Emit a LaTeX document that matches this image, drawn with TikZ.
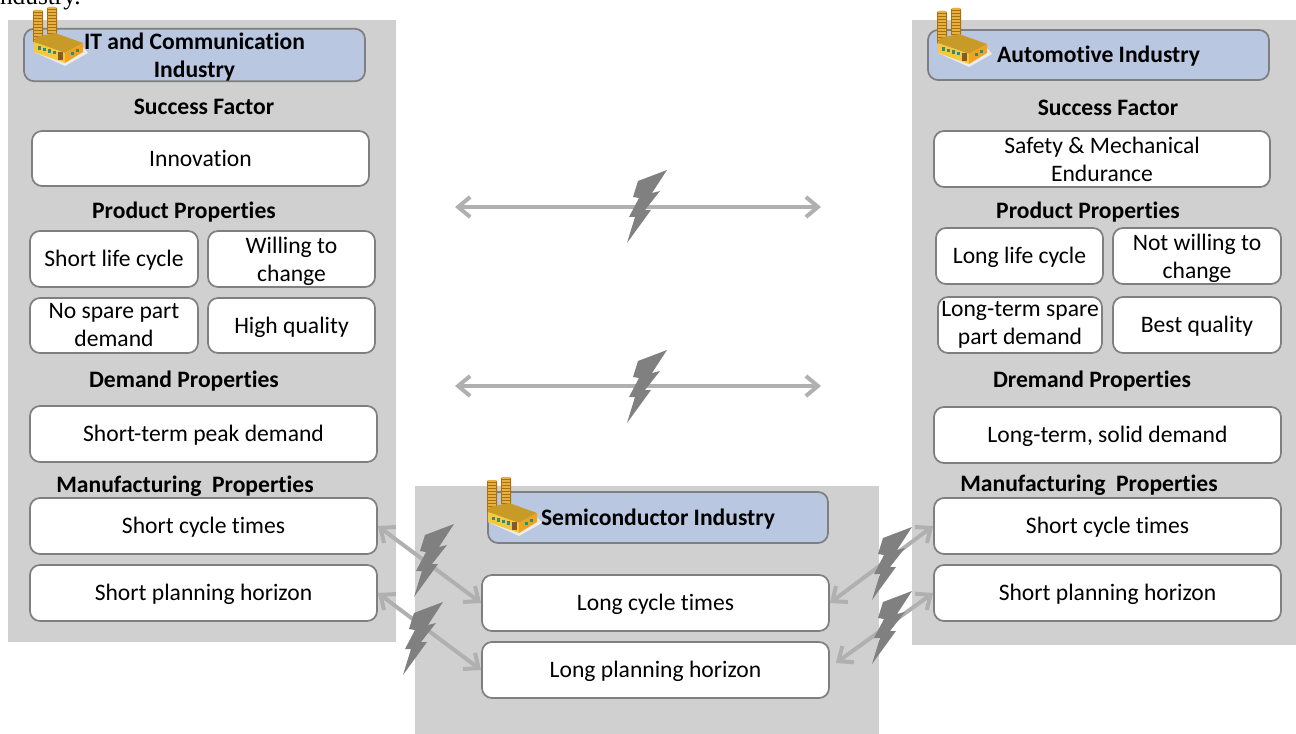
\documentclass[tikz,border=0pt]{standalone}
\usepackage{fontspec}
\setmainfont[Ligatures=NoCommon]{Carlito}
\newfontfamily\bodyserif{Liberation Serif}
\usetikzlibrary{arrows.meta}
\definecolor{PanelGray}{HTML}{D0D0D0}
\definecolor{TitleBlue}{HTML}{B9C7E0}
\definecolor{EdgeGray}{HTML}{7F7F7F}
\definecolor{ArrowGray}{HTML}{B0B0B0}
\definecolor{BoltGray}{HTML}{808080}
\definecolor{StackDark}{HTML}{A8700F}
\definecolor{StackLight}{HTML}{E8B040}
\definecolor{RoofGold}{HTML}{C89A28}
\definecolor{WallGold}{HTML}{F8C83C}
\definecolor{EndGold}{HTML}{EFA31E}
\definecolor{WindowTeal}{HTML}{2E8C7C}
\newcommand{\toppad}{\rule{0pt}{15.5pt}}
\tikzset{
    Panel/.style 2 args = {fill=PanelGray, inner sep=0, minimum width=#1*0.75pt, minimum height=#2*0.75pt},
    Title/.style 2 args = {draw=EdgeGray, line width=1.3pt, fill=TitleBlue, rounded corners=7.5pt, inner sep=0,
        align=center, font=\fontsize{17.7}{21}\selectfont\bfseries, minimum width=#1*0.75pt, minimum height=#2*0.75pt},
    Prop/.style 2 args = {draw=EdgeGray, line width=1.3pt, fill=white, rounded corners=7.5pt, inner sep=0,
        align=center, font=\fontsize{17.7}{21}\selectfont, minimum width=#1*0.75pt, minimum height=#2*0.75pt},
    OneLine/.style = {text depth=0.8pt},
    Heading/.style = {inner sep=0, text depth=1.5pt, font=\fontsize{17.7}{21}\selectfont\bfseries},
    Arrow/.style = {draw=ArrowGray, line width=3pt, {Straight Barb[length=9pt,width=15pt]}-{Straight Barb[length=9pt,width=15pt]}},
    Bolt/.pic = {
        \fill [BoltGray] (20,-37) -- (-9,-26) -- (-14,-10) -- (-8,-9) -- (-18,10) -- (-12,10) -- (-20,36)
            -- (4,3) -- (-2,3) -- (13,-16) -- (5,-14) -- cycle;
    },
    Factory/.pic = {
        \fill [black!8] (1,45) -- (32,59) -- (55,46) -- (50,40) -- cycle;
        \foreach \cx/\ctop/\cbot in {5/3/36, 19/0/28} {
            \fill [StackDark, rounded corners=1.5pt] (\cx-5,\ctop) rectangle (\cx+5,\cbot);
            \foreach \band in {\ctop,...,\cbot} {
                \pgfmathparse{int(mod(\band,3))}
                \ifnum\pgfmathresult=0
                    \fill [StackLight] (\cx-4.5,\band+0.3) rectangle (\cx+4,\band+1.8);
                \fi
            }
        }
        \fill [RoofGold] (3,30) -- (22,26) -- (50,36) -- (32,46) -- (1,35) -- cycle;
        \fill [WallGold] (1,35) -- (32,46) -- (32,56) -- (1,45) -- cycle;
        \fill [EndGold] (32,46) -- (50,36) -- (50,45) -- (32,56) -- cycle;
        \foreach \wx in {5,10,15,20} {
            \fill [WindowTeal] (\wx,38+\wx*0.3) rectangle (\wx+2.5,41.5+\wx*0.3);
        }
        \fill [brown!70!black] (25,45) rectangle (30,53);
        \fill [WindowTeal] (38,45) rectangle (40.5,48);
        \fill [WindowTeal] (43,42) rectangle (45.5,45);
    }
}
\begin{document}
\begin{tikzpicture}[x=0.75pt, y=-0.75pt]
    \useasboundingbox (0,0) rectangle (1296,734);
    \node [inner sep=0, anchor=base east, font=\bodyserif\fontsize{19}{21}\selectfont](caption) at (81,5){ndustry.};

    % panels
    \node [Panel={388}{622}](itpanel) at (202,331){};
    \node [Panel={384}{625}](autopanel) at (1104,332.5){};
    \node [Panel={464}{248}](semipanel) at (647,610){};

    % IT and communication
    \node [Title={341}{50}](ittitle) at (194.5,55){\toppad IT and Communication\\Industry};
    \node [Heading](itsuccess) at (204,108){Success Factor};
    \node [Prop={337}{55},OneLine](itinno) at (200.5,158.5){Innovation};
    \node [Heading](itproduct) at (184,211){Product Properties};
    \node [Prop={168}{56},OneLine](itlife) at (114,259){Short life cycle};
    \node [Prop={167}{56}](itchange) at (291.5,259){\toppad Willing to\\change};
    \node [Prop={168}{55}](itspare) at (114,325.5){No spare part\\demand};
    \node [Prop={167}{55},OneLine](itquality) at (291.5,325.5){High quality};
    \node [Heading](itdemand) at (184,380){Demand Properties};
    \node [Prop={347}{56},OneLine](itpeak) at (203.5,434){Short-term peak demand};
    \node [Heading](itmanu) at (185,485){Manufacturing~ Properties};
    \node [Prop={347}{56},OneLine](itcycle) at (203.5,526){Short cycle times};
    \node [Prop={347}{56},OneLine](itplan) at (203.5,593){Short planning horizon};

    % automotive
    \node [Title={341}{50},OneLine](autotitle) at (1098.5,55){Automotive Industry};
    \node [Heading](autosuccess) at (1108,109){Success Factor};
    \node [Prop={336}{56}](autosafe) at (1102,159){Safety \& Mechanical\\Endurance};
    \node [Heading](autoproduct) at (1088,211){Product Properties};
    \node [Prop={167}{56},OneLine](autolife) at (1019.5,256){Long life cycle};
    \node [Prop={168}{56}](autochange) at (1197,256){\toppad Not willing to\\change};
    \node [Prop={164}{56}](autospare) at (1020,325){Long-term spare\\part demand};
    \node [Prop={168}{56},OneLine](autoquality) at (1197,325){Best quality};
    \node [Heading](autodemand) at (1092,380){Dremand Properties};
    \node [Prop={347}{56},OneLine](autosolid) at (1107.5,435){Long-term, solid demand};
    \node [Heading](automanu) at (1089,484){Manufacturing~ Properties};
    \node [Prop={347}{56},OneLine](autocycle) at (1107.5,526){Short cycle times};
    \node [Prop={347}{56},OneLine](autoplan) at (1107.5,593){Short planning horizon};

    % semiconductor
    \node [Title={340}{51},OneLine](semititle) at (658,517.5){Semiconductor Industry};
    \node [Prop={347}{56},OneLine](semicycle) at (655.5,603){Long cycle times};
    \node [Prop={347}{56},OneLine](semiplan) at (655.5,670){Long planning horizon};

    % top arrows
    \coordinate (prodleft) at (455,207);
    \coordinate (prodright) at (821,207);
    \coordinate (demleft) at (455,386);
    \coordinate (demright) at (821,386);
    \draw [Arrow] (prodleft) to (prodright);
    \draw [Arrow] (demleft) to (demright);

    \draw [Arrow] (itcycle.east) to (semicycle.west);
    \draw [Arrow] (itplan.east) to (semiplan.west);
    \draw [Arrow] (semicycle.east) to (autocycle.west);
    \draw [Arrow] ([shift={(6,-7)}]semiplan.east) to (autoplan.west);

    \pic at (647,207) {Bolt};
    \pic at (647,387) {Bolt};
    \pic at (434,561) {Bolt};
    \pic at (423,639) {Bolt};
    \pic at (892,564) {Bolt};
    \pic at (892,628) {Bolt};

    \pic at (33,7) {Factory};
    \pic at (937,8) {Factory};
    \pic at (487,477) {Factory};
\end{tikzpicture}
\end{document}
